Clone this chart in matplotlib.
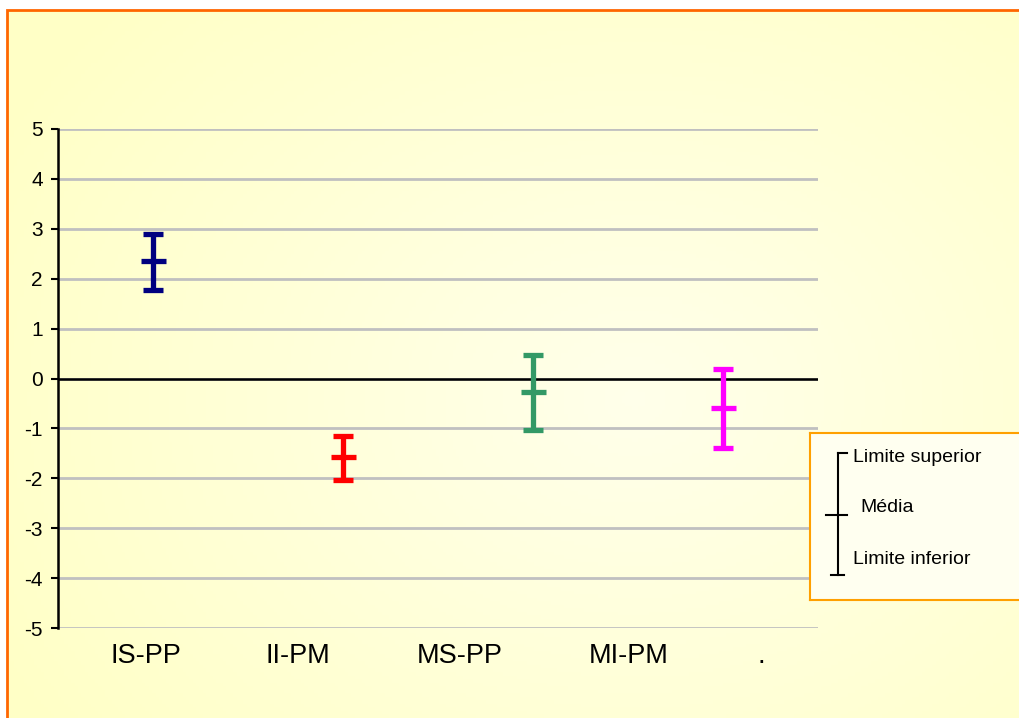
import numpy as np
import matplotlib.pyplot as plt
from matplotlib.patches import Rectangle

categories = ['IS-PP', 'II-PM', 'MS-PP', 'MI-PM']
upper = [2.89, -1.16, 0.48, 0.20]
media = [2.36, -1.58, -0.28, -0.60]
lower = [1.78, -2.04, -1.04, -1.40]
colors = ['#000080', '#FF0000', '#339966', '#FF00FF']
extra_label = '.'

plt.rcParams['font.family'] = ['Liberation Sans', 'DejaVu Sans']
plt.rcParams['axes.unicode_minus'] = False

fig = plt.figure(figsize=(10.2, 7.18), dpi=100)

# background: white outside, pale yellow gradient inside the orange frame
bg = fig.add_axes([0, 0, 1, 1], zorder=-10)
bg.set_axis_off()
gx, gy = np.meshgrid(np.linspace(0, 1, 300), np.linspace(0, 1, 200))
r = np.sqrt(((gx - 0.62) / 0.7) ** 2 + ((gy - 0.45) / 0.8) ** 2)
t = np.clip(r, 0, 1)
img = np.ones(gx.shape + (3,))
img[..., 2] = 0.92 - 0.14 * t
bg.add_patch(Rectangle((0, 0), 1, 1, facecolor='white', edgecolor='none', zorder=0))
bg.imshow(img, extent=[7 / 1020, 1.0, 0, 708 / 718], aspect='auto', origin='lower', zorder=1)
bg.add_patch(Rectangle((7 / 1020, -0.1), 1.1, (708 + 72) / 718, facecolor='none',
                       edgecolor='#FF6600', lw=2, zorder=5))
bg.set_xlim(0, 1)
bg.set_ylim(0, 1)

ax = fig.add_axes([58 / 1020, 1 - 628 / 718, 760 / 1020, 499 / 718])
ax.patch.set_alpha(0)
x = np.arange(len(categories))
ax.set_xlim(-0.5, len(categories) - 0.5)
ax.set_ylim(-5, 5)
ax.set_yticks(range(-5, 6))
ax.yaxis.grid(True, color='#C0C0C0', lw=2)
ax.set_axisbelow(True)
ax.axhline(0, color='black', lw=1.8, zorder=2)
for s in ['top', 'right', 'bottom']:
    ax.spines[s].set_visible(False)
ax.spines['left'].set_linewidth(1.8)
ax.tick_params(axis='y', direction='out', length=5, width=1.5, labelsize=15, pad=6)
ax.set_xticks([])

for i in range(len(categories)):
    ax.errorbar(x[i], media[i], yerr=[[media[i] - lower[i]], [upper[i] - media[i]]],
                fmt='_', color=colors[i], ms=18, mew=3.8, elinewidth=3.8,
                capsize=7, capthick=3.8, zorder=3)

# category labels sit as loose text boxes, not on the bar centres
label_x = [-0.035, 0.765, 1.615, 2.505, 3.2]
for lx, lab in zip(label_x, categories + [extra_label]):
    ax.text(lx, -5.3, lab, ha='center', va='top', fontsize=19.5)

# legend box
lg = fig.add_axes([810 / 1020, 1 - 600 / 718, 215 / 1020, 167 / 718])
lg.set_xlim(810, 1025)
lg.set_ylim(600, 433)
lg.set_facecolor('#FFFFF0')
for s in lg.spines.values():
    s.set_color('#FFA000')
    s.set_linewidth(1.5)
lg.set_xticks([])
lg.set_yticks([])
lg.plot([838, 838], [453, 575], color='black', lw=1.5)
lg.plot([838, 847], [453, 453], color='black', lw=1.5)
lg.plot([826, 847], [515, 515], color='black', lw=1.5)
lg.plot([831, 844], [575, 575], color='black', lw=1.5)
lg.text(853, 457, 'Limite superior', va='center', fontsize=14)
lg.text(860, 508, 'Média', va='center', fontsize=14)
lg.text(853, 560, 'Limite inferior', va='center', fontsize=14)

fig.savefig('out.png', dpi=100)
